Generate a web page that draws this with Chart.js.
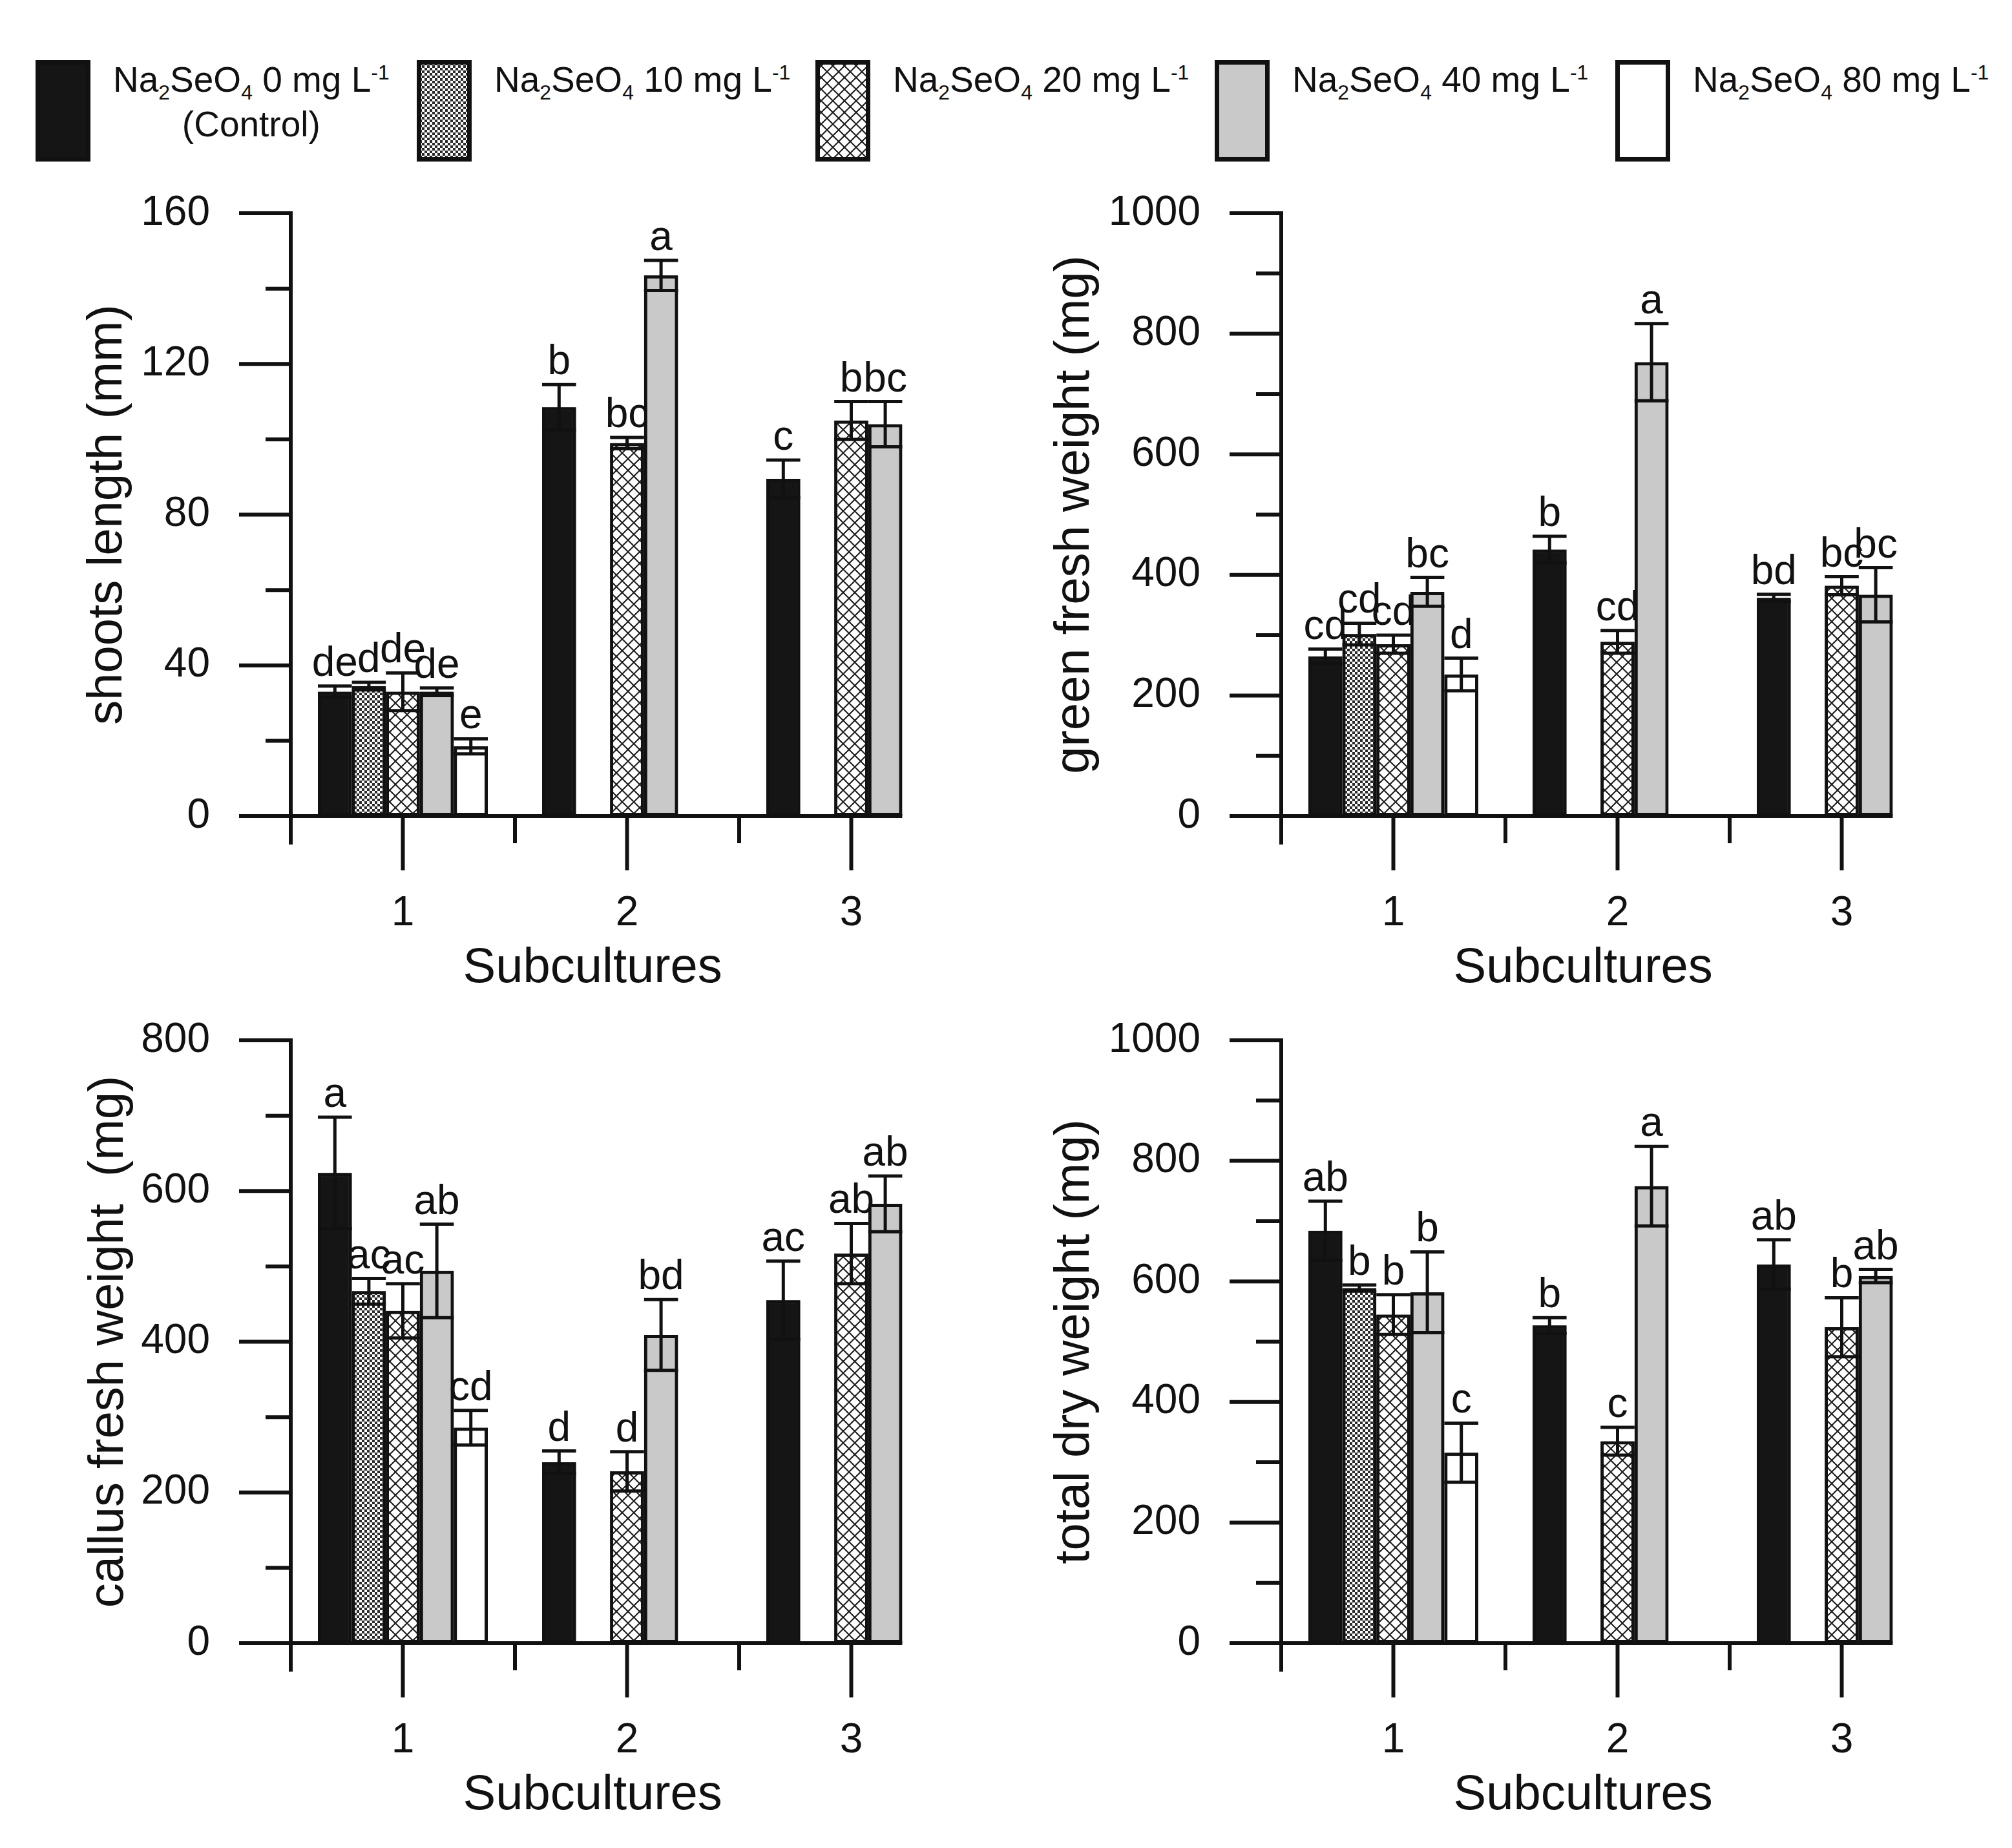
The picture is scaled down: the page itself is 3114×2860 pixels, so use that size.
<!DOCTYPE html>
<html><head><meta charset="utf-8">
<script src="https://cdn.jsdelivr.net/npm/chart.js@4.4.0/dist/chart.umd.min.js"></script>
<style>
html,body{margin:0;padding:0;background:#fff;}
body{width:3114px;height:2860px;position:relative;overflow:hidden;font-family:'Liberation Sans',Arial,sans-serif;}
canvas.panel{position:absolute;}
canvas.sw{position:absolute;top:93px;}
.lt{position:absolute;top:89px;font-size:55px;line-height:69px;color:#111;text-align:center;white-space:nowrap;}
.lt sub,.lt sup{font-size:0.58em;line-height:0;}
</style></head><body>
<div id="legend"></div>
<canvas id="c0" class="panel"></canvas>
<canvas id="c1" class="panel"></canvas>
<canvas id="c2" class="panel"></canvas>
<canvas id="c3" class="panel"></canvas>
<script>
// ---------------- DATA ----------------
const categories = ['1', '2', '3'];
const concentrations = [0, 10, 20, 40, 80];

// shoots length (mm): one row per concentration, one value per subculture
const shootsMean = [[33, 108.5, 89.5], [34.5, null, null], [33, 99, 105], [33, 143.5, 104], [18.5, null, null]];
const shootsErr  = [[1.5, 6, 5], [1, null, null], [5, 1.5, 5], [1, 4, 6], [2, null, null]];
const shootsLetters = [['de', 'b', 'c'], ['d', '', ''], ['de', 'bc', 'b'], ['de', 'a', 'bc'], ['e', '', '']];

// green fresh weight (mg)
const greenMean = [[265, 442, 362], [302, null, null], [285, 289, 382], [372, 753, 367], [235, null, null]];
const greenErr  = [[12, 22, 6], [18, null, null], [15, 19, 15], [24, 64, 45], [27, null, null]];
const greenLetters = [['cd', 'b', 'bd'], ['cd', '', ''], ['cd', 'cd', 'bc'], ['bc', 'a', 'bc'], ['d', '', '']];

// callus fresh weight (mg)
const callusMean = [[624, 240, 455], [467, null, null], [441, 228, 517], [494, 409, 583], [286, null, null]];
const callusErr  = [[74, 15, 52], [17, null, null], [36, 26, 40], [62, 47, 37], [23, null, null]];
const callusLetters = [['a', 'd', 'ac'], ['ac', '', ''], ['ac', 'd', 'ab'], ['ab', 'bd', 'ab'], ['cd', '', '']];

// total dry weight (mg)
const dryMean = [[684, 527, 628], [589, null, null], [545, 335, 524], [582, 758, 609], [316, null, null]];
const dryErr  = [[49, 13, 41], [5, null, null], [33, 23, 49], [67, 66, 11], [49, null, null]];
const dryLetters = [['ab', 'b', 'ab'], ['b', '', ''], ['b', 'c', 'b'], ['b', 'a', 'ab'], ['c', '', '']];

// y-axis tick settings: [max, step, labelled every]
const shootsTicks = [160, 20, 40];
const greenTicks = [1000, 100, 200];
const callusTicks = [800, 100, 200];
const dryTicks = [1000, 100, 200];

const yTitles = ['shoots length (mm)', 'green fresh weight (mg)', 'callus fresh weight  (mg)', 'total dry weight (mg)'];
const xTitle = 'Subcultures';

// ---------------- STYLE ----------------
const FONT = '"Liberation Sans", Arial, sans-serif';
const INK = '#111';

function makeTile(kind) {
  const t = document.createElement('canvas');
  const c = t.getContext('2d');
  if (kind === 'dots') {
    t.width = 8; t.height = 8;
    c.fillStyle = '#fff'; c.fillRect(0, 0, 8, 8);
    c.fillStyle = '#2a2a2a'; c.fillRect(0, 0, 4, 4); c.fillRect(4, 4, 4, 4);
  } else {
    const w = 18, h = 18;
    t.width = w; t.height = h;
    c.fillStyle = '#fff'; c.fillRect(0, 0, w, h);
    c.strokeStyle = '#1a1a1a'; c.lineWidth = 2;
    c.beginPath();
    for (const o of [-w, 0, w]) {
      c.moveTo(o, 0); c.lineTo(o + w, h);
      c.moveTo(o + w, 0); c.lineTo(o, h);
    }
    c.stroke();
  }
  return t;
}
function makeFills(ctx) {
  return ['#151515', ctx.createPattern(makeTile('dots'), 'repeat'), ctx.createPattern(makeTile('cross'), 'repeat'), '#c9c9c9', '#ffffff'];
}

// ---------------- LEGEND ----------------
const swatchLeft = [55, 645, 1262, 1880, 2500];
const legend = document.getElementById('legend');
concentrations.forEach((c, i) => {
  const cv = document.createElement('canvas');
  cv.className = 'sw'; cv.width = 85; cv.height = 157;
  cv.style.left = swatchLeft[i] + 'px';
  legend.appendChild(cv);
  const g = cv.getContext('2d');
  g.fillStyle = makeFills(g)[i];
  g.fillRect(0, 0, 85, 157);
  g.strokeStyle = INK; g.lineWidth = 7;
  g.strokeRect(3.5, 3.5, 78, 150);
  const d = document.createElement('div');
  d.className = 'lt';
  d.style.left = (swatchLeft[i] + 120) + 'px';
  d.innerHTML = 'Na<sub>2</sub>SeO<sub>4</sub> ' + c + ' mg L<sup>-1</sup>' + (i === 0 ? '<br>(Control)' : '');
  legend.appendChild(d);
});

// ---------------- PANELS ----------------
const decor = {
  id: 'decor',
  afterDatasetsDraw(chart) {
    const o = chart.options.plugins.decor;
    const ctx = chart.ctx;
    const x = chart.scales.x, y = chart.scales.y;
    const metas = chart.getSortedVisibleDatasetMetas().slice().sort((a, b) => a.index - b.index);
    let lastRight = x.left;
    metas.forEach(m => m.data.forEach((el, j) => {
      if (chart.data.datasets[m.index].data[j] != null) lastRight = Math.max(lastRight, el.x + el.width / 2);
    }));
    ctx.save();
    // bars drawn in series order, each followed by its error bars and letters
    metas.forEach(m => {
      const ds = chart.data.datasets[m.index];
      m.data.forEach((el, j) => { if (ds.data[j] != null) el.draw(ctx); });
      m.data.forEach((el, j) => {
        const v = ds.data[j];
        if (v == null) return;
        const e = ds.errors[j] || 0;
        const xc = el.x, hw = el.width / 2;
        const yt = y.getPixelForValue(v + e), yb = y.getPixelForValue(v - e);
        ctx.strokeStyle = INK; ctx.lineWidth = 5; ctx.lineCap = 'butt';
        ctx.beginPath();
        ctx.moveTo(xc, yt); ctx.lineTo(xc, yb);
        ctx.moveTo(xc - hw, yt); ctx.lineTo(xc + hw, yt);
        ctx.moveTo(xc - hw, yb); ctx.lineTo(xc + hw, yb);
        ctx.stroke();
        ctx.fillStyle = INK;
        ctx.font = '64px ' + FONT;
        ctx.textAlign = 'center'; ctx.textBaseline = 'alphabetic';
        ctx.fillText(ds.letters[j], xc, yt - 16);
      });
    });
    // axes
    const X0 = x.left, Y0 = y.getPixelForValue(0), YT = y.getPixelForValue(y.max);
    ctx.strokeStyle = INK; ctx.lineWidth = 6; ctx.lineCap = 'butt';
    ctx.beginPath();
    ctx.moveTo(X0, YT - 3); ctx.lineTo(X0, Y0 + 44);
    ctx.moveTo(X0 - 80, Y0); ctx.lineTo(lastRight, Y0);
    y.ticks.forEach(t => {
      const py = y.getPixelForValue(t.value);
      const major = t.value % o.every === 0;
      ctx.moveTo(X0 - (major ? 80 : 39), py); ctx.lineTo(X0, py);
    });
    x.ticks.forEach((t, i) => {
      const px = x.getPixelForTick(i);
      ctx.moveTo(px, Y0); ctx.lineTo(px, Y0 + 84);
      if (i > 0) {
        const pb = (x.getPixelForTick(i - 1) + px) / 2;
        ctx.moveTo(pb, Y0); ctx.lineTo(pb, Y0 + 42);
      }
    });
    ctx.stroke();
    // titles
    ctx.fillStyle = INK;
    ctx.font = '76px ' + FONT;
    ctx.textAlign = 'center'; ctx.textBaseline = 'middle';
    ctx.fillText(xTitle, (X0 + lastRight) / 2 - 6, Y0 + 236);
    ctx.save();
    ctx.translate(X0 + o.yTitleOffset, (YT + Y0) / 2);
    ctx.rotate(-Math.PI / 2);
    ctx.fillText(o.yTitle, 0, 0);
    ctx.restore();
    ctx.restore();
  }
};

const panels = [
  { id: 'c0', left: 0,    top: 260,  axisW: 450, mean: shootsMean, err: shootsErr, let: shootsLetters, ticks: shootsTicks, title: yTitles[0], tOff: -283 },
  { id: 'c1', left: 1557, top: 260,  axisW: 426, mean: greenMean,  err: greenErr,  let: greenLetters,  ticks: greenTicks,  title: yTitles[1], tOff: -319 },
  { id: 'c2', left: 0,    top: 1540, axisW: 450, mean: callusMean, err: callusErr, let: callusLetters, ticks: callusTicks, title: yTitles[2], tOff: -281 },
  { id: 'c3', left: 1557, top: 1540, axisW: 426, mean: dryMean,    err: dryErr,    let: dryLetters,    ticks: dryTicks,    title: yTitles[3], tOff: -319 }
];

const CW = 1557, CH = 1300, PLOT_TOP = 70, PLOT_BOTTOM = 1003, PLOT_W = 1041;
function zeroPad(s) { s.paddingTop = 0; s.paddingBottom = 0; s.paddingLeft = 0; s.paddingRight = 0; }

panels.forEach(p => {
  const cv = document.getElementById(p.id);
  cv.width = CW; cv.height = CH;
  cv.style.left = p.left + 'px'; cv.style.top = p.top + 'px';
  cv.style.width = CW + 'px'; cv.style.height = CH + 'px';
  const fills = makeFills(cv.getContext('2d'));
  const datasets = concentrations.map((c, i) => ({
    label: 'Na2SeO4 ' + c + ' mg L-1',
    data: p.mean[i],
    errors: p.err[i],
    letters: p.let[i],
    backgroundColor: fills[i],
    borderColor: INK,
    borderWidth: 5,
    borderSkipped: false,
    categoryPercentage: 0.758,
    barPercentage: 1.0
  }));
  const [yMax, yStep, every] = p.ticks;
  new Chart(cv, {
    type: 'bar',
    data: { labels: categories, datasets },
    options: {
      responsive: false,
      animation: false,
      devicePixelRatio: 1,
      layout: { padding: { top: PLOT_TOP, left: 0, right: CW - p.axisW - PLOT_W, bottom: 0 } },
      plugins: {
        legend: { display: false },
        tooltip: { enabled: false },
        decor: { every, yTitle: p.title, yTitleOffset: p.tOff }
      },
      scales: {
        x: {
          type: 'category',
          offset: true,
          grid: { display: false, drawTicks: false },
          border: { display: false },
          ticks: { font: { family: FONT, size: 64 }, color: INK, padding: 113, maxRotation: 0, autoSkip: false },
          afterFit: s => { s.height = CH - PLOT_BOTTOM; zeroPad(s); }
        },
        y: {
          type: 'linear',
          min: 0, max: yMax,
          grid: { display: false, drawTicks: false },
          border: { display: false },
          ticks: {
            stepSize: yStep,
            font: { family: FONT, size: 64 }, color: INK, padding: 125,
            callback: v => (v % every === 0 ? String(v) : '')
          },
          afterFit: s => { s.width = p.axisW; zeroPad(s); }
        }
      }
    },
    plugins: [decor]
  });
});
</script>
</body></html>
